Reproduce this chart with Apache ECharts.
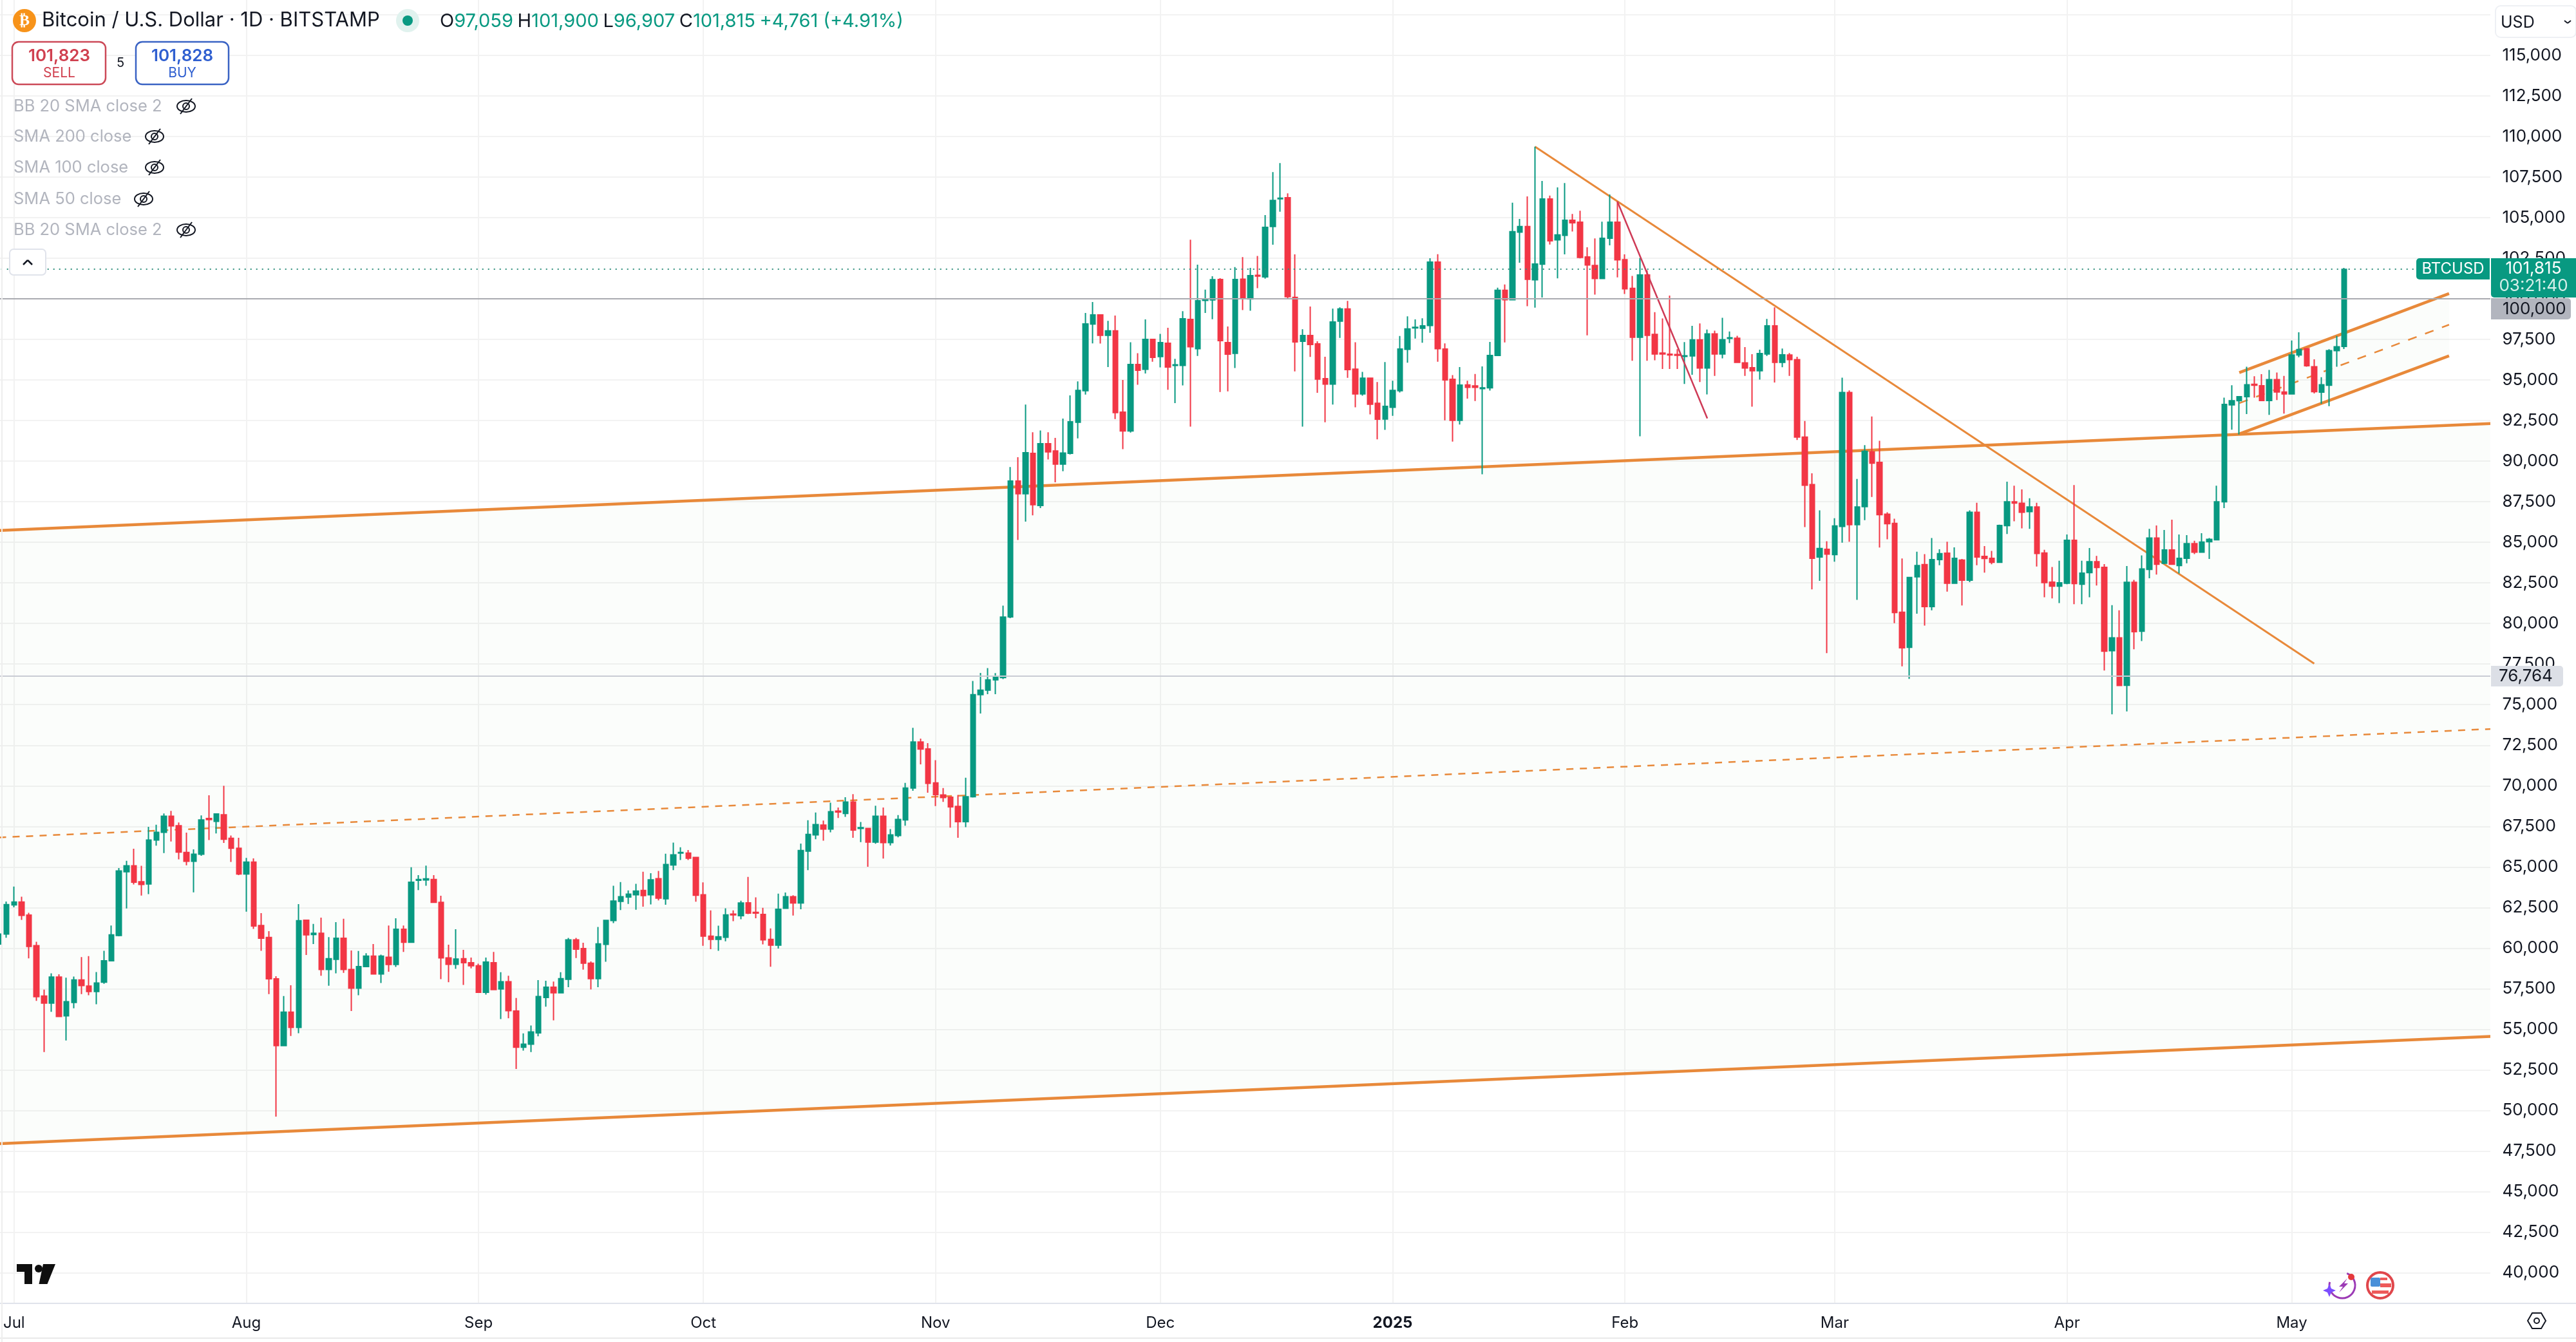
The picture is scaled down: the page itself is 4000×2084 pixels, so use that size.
<!DOCTYPE html>
<html>
<head>
<meta charset="utf-8">
<title>BTCUSD</title>
<script src="https://cdn.jsdelivr.net/npm/echarts@6/dist/echarts.min.js"></script>
<style>
  html, body { margin: 0; padding: 0; background: #fff; }
  #chart { width: 4000px; height: 2084px; }
</style>
</head>
<body>
<div id="chart"></div>
<script>
// daily candles, each row is open, close, low, high
const firstDay = "2024-06-29";
const dayCount = 334; // the empty days on the right are the chart's blank margin

const candlesJun = [
  [60250, 60870, 60150, 61000], [60870, 62680, 60640, 62870],
];
const candlesJul = [
  [62660, 62840, 62520, 63790], [62840, 62020, 61740, 63170], [62040, 60110, 59370, 62180], [60160, 57010, 56750, 60390],
  [57050, 56620, 53600, 57450], [56620, 58220, 56080, 58450], [58220, 55790, 55760, 58390], [55830, 56710, 54320, 58180],
  [56660, 58040, 56300, 58250], [58040, 57700, 57170, 59450], [57670, 57330, 57100, 59510], [57330, 57860, 56550, 58530],
  [57900, 59220, 57810, 59840], [59220, 60820, 59220, 61400], [60780, 64760, 60730, 64940], [64710, 65070, 62450, 65380],
  [65070, 64060, 63920, 66130], [64090, 63920, 63240, 65070], [63950, 66660, 63330, 67470], [66660, 67140, 66310, 67600],
  [67140, 68130, 65860, 68300], [68130, 67530, 66570, 68460], [67540, 65920, 65470, 67740], [65900, 65350, 65100, 67120],
  [65350, 65790, 63440, 66090], [65790, 67900, 65690, 68180], [67990, 67920, 66660, 69420], [67810, 68270, 67070, 68270],
  [68220, 66710, 66480, 70000], [66770, 66150, 65310, 66940], [66150, 64570, 64500, 66800],
];
const candlesAug = [
  [64570, 65300, 62250, 65560], [65300, 61370, 61190, 65530], [61400, 60610, 59840, 62160], [60660, 58110, 57170, 61050],
  [58110, 54000, 49630, 58270], [54000, 56060, 54000, 57050], [56060, 55120, 54590, 57720], [55120, 61690, 54760, 62710],
  [61720, 60820, 59580, 61720], [60840, 60920, 60250, 61490], [60920, 58690, 58300, 61880], [58690, 59350, 57690, 60680],
  [59310, 60610, 58450, 61600], [60610, 58690, 58480, 61810], [58690, 57540, 56130, 59860], [57540, 58870, 57100, 59830],
  [58870, 59510, 58840, 59690], [59510, 58410, 58410, 60250], [58410, 59510, 57860, 59600], [59440, 59000, 58550, 61400],
  [59000, 61170, 58850, 61840], [61170, 60360, 59770, 61400], [60360, 64060, 60360, 64980], [64180, 64230, 63580, 64500],
  [64200, 64270, 63840, 65080], [64230, 62820, 62820, 64500], [62820, 59400, 58090, 63230], [59400, 59010, 57900, 60220],
  [59010, 59330, 58730, 61170], [59350, 59100, 57740, 59900], [59100, 58920, 58760, 59420],
];
const candlesSep = [
  [58920, 57280, 57240, 59050], [57280, 59140, 57140, 59420], [59100, 57450, 57420, 59770], [57490, 57930, 55630, 58520],
  [57930, 56150, 55680, 58300], [56130, 53900, 52560, 56930], [53900, 54090, 53690, 54750], [54090, 54840, 53600, 55240],
  [54780, 57020, 54570, 58030], [56960, 57600, 56400, 57990], [57600, 57250, 55550, 57940], [57250, 58120, 57250, 58520],
  [58080, 60510, 57600, 60630], [60510, 59940, 59390, 60630], [59980, 59070, 58680, 60330], [59070, 58120, 57460, 59180],
  [58120, 60260, 57600, 61310], [60240, 61710, 59160, 61710], [61700, 62900, 61540, 63840], [62880, 63170, 62350, 64070],
  [63150, 63330, 62720, 63560], [63290, 63520, 62370, 63960], [63560, 63240, 62560, 64710], [63290, 64210, 62690, 64620],
  [64280, 63080, 62940, 64760], [63040, 65150, 62670, 65820], [65120, 65750, 64810, 66500], [65860, 65900, 65430, 66210],
  [65860, 65540, 65430, 66050], [65590, 63260, 62860, 65590],
];
const candlesOct = [
  [63290, 60740, 60150, 64050], [60740, 60540, 59940, 62330], [60540, 60700, 59840, 61390], [60670, 62050, 60420, 62460],
  [62100, 62050, 61660, 62330], [62000, 62780, 61780, 62920], [62790, 62160, 62100, 64390], [62210, 62160, 61840, 63130],
  [62080, 60510, 60240, 62490], [60540, 60190, 58860, 61220], [60190, 62400, 59980, 63360], [62460, 63170, 62460, 63430],
  [63170, 62780, 62010, 63260], [62780, 66020, 62400, 66440], [65980, 67010, 64810, 67880], [66980, 67610, 66710, 68360],
  [67580, 67330, 66620, 67860], [67330, 68410, 67140, 68960], [68450, 68390, 68020, 68660], [68300, 69000, 68090, 69300],
  [69000, 67280, 66800, 69490], [67370, 67420, 66530, 67770], [67370, 66530, 65010, 67380], [66530, 68130, 66430, 68770],
  [68130, 66500, 65520, 68660], [66500, 66980, 66320, 67330], [66940, 67930, 66830, 68200], [67900, 69860, 67540, 70180],
  [69860, 72700, 69690, 73570], [72700, 72260, 71320, 72910], [72270, 70150, 69580, 72630],
];
const candlesNov = [
  [70180, 69460, 68750, 71580], [69440, 69280, 69010, 69860], [69300, 68700, 67420, 69320], [68730, 67790, 66800, 69440],
  [67790, 69330, 67450, 70500], [69330, 75610, 69280, 76460], [75610, 75890, 74450, 76950], [75890, 76530, 75640, 77250],
  [76530, 76690, 75640, 76940], [76670, 80390, 76580, 81100], [80400, 88770, 80320, 89640], [88770, 87990, 85140, 90240],
  [87990, 90520, 86270, 93480], [90480, 87320, 86660, 91780], [87270, 91070, 87110, 91890], [91070, 90570, 90100, 91780],
  [90630, 89810, 88690, 91430], [89810, 90500, 89380, 92620], [90480, 92420, 90410, 94050], [92390, 94360, 91400, 94910],
  [94340, 98450, 94100, 99130], [98440, 99010, 97250, 99800], [99010, 97750, 97240, 99010], [97750, 98020, 95790, 98640],
  [98020, 92990, 92590, 98970], [93020, 91860, 90740, 95000], [91860, 95950, 91760, 97320], [95950, 95600, 94700, 96650],
  [95650, 97500, 95400, 98730], [97500, 96390, 96120, 97500],
];
const candlesDec = [
  [96440, 97300, 95770, 97840], [97260, 95790, 94400, 98210], [95890, 95930, 93570, 96300], [95890, 98770, 94660, 99230],
  [98730, 97040, 92120, 103640], [96920, 99880, 96480, 102100], [99900, 99950, 99130, 100560], [99930, 101180, 98740, 101390],
  [101190, 97420, 94260, 101270], [97300, 96590, 94300, 98290], [96640, 101190, 95730, 101950], [101210, 100030, 99300, 102570],
  [99990, 101430, 99260, 101900], [101450, 101400, 100650, 102640], [101350, 104400, 101240, 105150], [104450, 106060, 103330, 107800],
  [106160, 106200, 105360, 108360], [106220, 100130, 100030, 106490], [100090, 97340, 95530, 102730], [97380, 97740, 92120, 98120],
  [97740, 97180, 96420, 99520], [97220, 95050, 94210, 97380], [95080, 94740, 92390, 96430], [94740, 98570, 93480, 99390],
  [98620, 99370, 97590, 99470], [99370, 95630, 95130, 99870], [95660, 94140, 93310, 97320], [94140, 95110, 94030, 95500],
  [95110, 93500, 92880, 95110], [93560, 92580, 91340, 94870], [92590, 93370, 91930, 96100],
];
const candlesJan = [
  [93310, 94360, 92790, 94950], [94340, 96900, 94230, 97710], [96880, 98140, 96060, 98920], [98200, 98240, 97550, 98730],
  [98180, 98330, 97290, 98800], [98350, 102260, 97910, 102500], [102260, 96920, 96120, 102740], [96900, 95000, 92510, 97250],
  [95040, 92510, 91200, 95300], [92510, 94680, 92250, 95790], [94690, 94540, 93850, 94950], [94630, 94540, 93700, 95370],
  [94460, 94510, 89190, 95830], [94510, 96510, 94350, 97340], [96510, 100520, 96490, 100680], [100520, 99940, 97310, 100880],
  [99940, 104130, 99940, 105920], [104100, 104450, 102220, 104920], [104450, 101200, 99540, 106300], [101170, 102140, 99450, 109370],
  [102130, 106150, 100080, 107260], [106150, 103570, 103340, 106350], [103630, 103930, 101260, 106860], [103900, 104840, 102730, 107130],
  [104840, 104680, 104140, 105220], [104720, 102550, 102490, 105420], [102580, 102080, 97750, 103170], [102050, 101250, 100260, 103720],
  [101250, 103730, 101250, 104750], [103730, 104720, 103290, 106420], [104720, 102400, 101320, 106000],
];
const candlesFeb = [
  [102410, 100610, 100300, 102730], [100640, 97630, 96180, 101410], [97630, 101470, 91530, 102510], [101470, 97750, 96180, 101750],
  [97810, 96600, 96210, 99170], [96660, 96600, 95670, 98790], [96590, 96540, 95670, 100200], [96570, 96520, 95670, 96890],
  [96450, 96490, 94750, 97330], [96480, 97470, 95320, 98330], [97470, 95730, 94870, 98480], [95730, 97840, 94110, 98100],
  [97840, 96600, 95250, 98030], [96600, 97480, 96330, 98830], [97560, 97600, 97270, 97980], [97570, 96080, 96080, 97720],
  [96050, 95730, 95250, 97020], [95750, 95570, 93350, 96590], [95570, 96630, 95020, 96860], [96600, 98330, 96480, 98760],
  [98330, 96080, 94840, 99470], [96080, 96550, 95780, 96930], [96540, 96250, 95250, 96660], [96250, 91480, 91300, 96430],
  [91480, 88520, 85940, 92470], [88550, 84010, 82100, 89250], [84090, 84620, 82630, 86970], [84570, 84270, 78170, 85060],
];
const candlesMar = [
  [84240, 86010, 83810, 86480], [85980, 94230, 84980, 95140], [94230, 86090, 85030, 94360], [86090, 87180, 81460, 88900],
  [87200, 90610, 86360, 90980], [90570, 89870, 87790, 92750], [89920, 86700, 84680, 91250], [86730, 86150, 85180, 86850],
  [86170, 80670, 80020, 86450], [80690, 78500, 77360, 84000], [78530, 82830, 76590, 82870], [82870, 83570, 80600, 84420],
  [83630, 81040, 79870, 84270], [81040, 83930, 80810, 85260], [83930, 84300, 83590, 84570], [84330, 82480, 81960, 85030],
  [82480, 84010, 82450, 84690], [83900, 82660, 81110, 83970], [82660, 86850, 82550, 86970], [86850, 84090, 83590, 87430],
  [84130, 84000, 83130, 84770], [84010, 83770, 83650, 84470], [83770, 86040, 83770, 86090], [86030, 87490, 85510, 88730],
  [87490, 87410, 86290, 88490], [87400, 86850, 85860, 88260], [86890, 87180, 85830, 87710], [87180, 84310, 83510, 87430],
  [84340, 82520, 81610, 84540], [82550, 82300, 81540, 83480], [82300, 82510, 81260, 83860],
];
const candlesApr = [
  [82480, 85120, 82420, 85480], [85120, 82460, 81190, 88530], [82420, 83100, 81190, 83860], [83130, 83810, 81610, 84650],
  [83810, 83450, 82340, 84160], [83460, 78290, 77100, 83660], [78320, 79110, 74400, 81130], [79110, 76180, 76150, 80810],
  [76190, 82540, 74580, 83540], [82540, 79490, 78410, 82680], [79520, 83360, 78920, 84190], [83330, 85260, 82780, 85830],
  [85260, 83650, 83010, 86040], [83710, 84530, 83660, 85760], [84530, 83650, 83620, 86390], [83570, 84010, 83080, 85480],
  [84010, 84920, 83710, 85440], [84920, 84390, 84270, 85090], [84390, 85010, 84370, 85560], [85030, 85180, 83970, 85260],
  [85150, 87490, 85150, 88490], [87490, 93490, 87110, 93910], [93460, 93720, 91940, 94670], [93720, 93970, 91640, 94000],
  [93970, 94700, 92900, 95810], [94730, 94670, 93910, 95230], [94640, 93730, 93690, 95360], [93730, 95020, 92850, 95610],
  [95020, 94260, 93760, 95460], [94260, 94140, 92930, 95250],
];
const candlesMay = [
  [94140, 96540, 94130, 97430], [96540, 96870, 96400, 97940], [96920, 95870, 95810, 96920], [95810, 94280, 94170, 96270],
  [94250, 94700, 93530, 95170], [94670, 96800, 93380, 96890], [96800, 97040, 95810, 97710], [97059, 101815, 96907, 101900],
];

// tick labels
const monthNames = ["Jan", "Feb", "Mar", "Apr", "May", "Jun", "Jul", "Aug", "Sep", "Oct", "Nov", "Dec"];
const priceMin = 37500;
const priceMax = 120000;
const priceStep = 2500;
const firstPriceLabel = 40000;
const lastPriceLabel = 115000;

// drawn lines, each as [day, price] ends
const wideChannelTop = [["2024-06-29", 85730], ["2025-05-28", 92320]];
const wideChannelMiddle = [["2024-06-29", 66820], ["2025-05-28", 73510]];
const wideChannelBottom = [["2024-06-29", 47960], ["2025-05-28", 54570]];
const smallChannelTop = [["2025-04-24", 95450], ["2025-05-22", 100320]];
const smallChannelMiddle = [["2025-04-24", 93570], ["2025-05-22", 98400]];
const smallChannelBottom = [["2025-04-24", 91670], ["2025-05-22", 96480]];
const longTrendLine = [["2025-01-20", 109370], ["2025-05-04", 77530]];
const shortTrendLine = [["2025-01-31", 105990], ["2025-02-12", 92630]];

const lastPrice = 101815;
const roundLevel = 100000;
const lowLevel = 76764;

const UP = "#089981";
const DOWN = "#f23645";
const ORANGE = "#e8893a";
const INK = "#131722";
const GRID = "#f2f2f2";
const FONT = "Inter";

const candles = [].concat(candlesJun, candlesJul, candlesAug, candlesSep, candlesOct, candlesNov,
  candlesDec, candlesJan, candlesFeb, candlesMar, candlesApr, candlesMay);

const categories = [];
for (let i = 0; i < dayCount; i++) {
  const d = new Date(firstDay + "T00:00:00Z");
  d.setUTCDate(d.getUTCDate() + i);
  categories.push(d.toISOString().slice(0, 10));
}

const isMonthStart = (index, value) => value.slice(8) === "01";

function drawnLine(points, width, color, dash, z) {
  return {
    type: "line",
    data: points,
    symbol: "none",
    silent: true,
    animation: false,
    z: z,
    lineStyle: { width: width, color: color, type: dash || "solid" },
  };
}

function levelLine(value, width, color, dash) {
  return {
    type: "line",
    data: [],
    silent: true,
    animation: false,
    z: 1,
    markLine: {
      silent: true,
      animation: false,
      symbol: "none",
      label: { show: false },
      lineStyle: { width: width, color: color, type: dash, opacity: 1 },
      data: [{ yAxis: value }],
    },
  };
}

// light fill between the two outer lines of a channel
function channelFill(top, bottom) {
  return {
    type: "custom",
    silent: true,
    animation: false,
    clip: true,
    z: 1,
    data: [[0]],
    renderItem: function (params, api) {
      const at = (p) => api.coord([categories.indexOf(p[0]), p[1]]);
      return {
        type: "polygon",
        shape: { points: [at(top[0]), at(top[1]), at(bottom[1]), at(bottom[0])] },
        style: { fill: "rgba(76, 160, 90, 0.024)" },
      };
    },
  };
}

// header, order buttons and other chart furniture
function txt(x, y, text, font, fill, align) {
  return {
    type: "text", x: x, y: y, z: 110, silent: true,
    style: { text: text, font: font, fill: fill, textAlign: align || "left", textVerticalAlign: "middle" },
  };
}
function box(x, y, w, h, fill, stroke, r, lineWidth, z) {
  return {
    type: "rect", z: z || 100, silent: true,
    shape: { x: x, y: y, width: w, height: h, r: r || 0 },
    style: { fill: fill, stroke: stroke || null, lineWidth: lineWidth || 0 },
  };
}
function seg(x1, y1, x2, y2, stroke, lineWidth) {
  return {
    type: "line", z: 105, silent: true,
    shape: { x1: x1, y1: y1, x2: x2, y2: y2 },
    style: { stroke: stroke, lineWidth: lineWidth },
  };
}
function disc(cx, cy, r, fill, stroke, lineWidth) {
  return {
    type: "circle", z: 105, silent: true,
    shape: { cx: cx, cy: cy, r: r },
    style: { fill: fill, stroke: stroke || null, lineWidth: lineWidth || 0 },
  };
}
function poly(points, fill) {
  return { type: "polygon", z: 106, silent: true, shape: { points: points }, style: { fill: fill } };
}
function hiddenEye(x, y) {
  return [
    { type: "ellipse", z: 105, silent: true, shape: { cx: x, cy: y, rx: 14, ry: 9 }, style: { fill: null, stroke: INK, lineWidth: 2 } },
    disc(x, y, 5, null, INK, 2),
    seg(x + 9, y - 12, x - 9, y + 12, INK, 2),
  ];
}

const indicatorRows = [
  ["BB 20 SMA close 2", 165, 289],
  ["SMA 200 close", 212, 240],
  ["SMA 100 close", 260, 240],
  ["SMA 50 close", 309, 223],
  ["BB 20 SMA close 2", 357, 289],
];

const furniture = [
  // masks for the part of the plot behind the price and time scales
  box(3867, 0, 17, 2042, "#fff"),
  box(0, 2023, 4000, 19, "#fff"),
  box(0, 2023, 4000, 2, "#e0e3eb", null, 0, 0, 101),
  box(0, 2077, 4000, 2, "#e9e9e9", null, 0, 0, 101),
  box(2, 0, 2, 2084, "#eeeeee", null, 0, 0, 101),

  // symbol line
  disc(38, 32, 18, "#f7931a"),
  txt(38, 33, "₿", "bold 24px 'DejaVu Sans'", "#fff", "center"),
  txt(65, 32, "Bitcoin / U.S. Dollar · 1D · BITSTAMP", "31px " + FONT, INK),
  disc(633, 32, 18, "#e0f2ee"),
  disc(633, 32, 8, UP),
  {
    type: "text", x: 683, y: 33, z: 110, silent: true,
    style: {
      text: "{l|O}{v|97,059}  {l|H}{v|101,900}  {l|L}{v|96,907}  {l|C}{v|101,815}  {v|+4,761 (+4.91%)}",
      textVerticalAlign: "middle",
      rich: {
        l: { font: "29px " + FONT, fill: INK },
        v: { font: "29px " + FONT, fill: UP },
      },
    },
  },

  // sell and buy
  box(19, 65, 145, 66, "#fff", "#cc4a58", 10, 2.5),
  txt(92, 87, "101,823", "600 26px " + FONT, "#d0404f", "center"),
  txt(92, 114, "SELL", "21px " + FONT, "#d0404f", "center"),
  txt(187, 98, "5", "20px " + FONT, INK, "center"),
  box(211, 65, 144, 66, "#fff", "#3a63c4", 10, 2.5),
  txt(283, 87, "101,828", "600 26px " + FONT, "#2f5fd0", "center"),
  txt(283, 114, "BUY", "21px " + FONT, "#2f5fd0", "center"),

  // collapse button
  box(15, 387, 56, 40, "#fff", "#e0e3eb", 6, 2),
  seg(36, 411, 43, 404, INK, 2.5),
  seg(43, 404, 50, 411, INK, 2.5),

  // price scale
  box(3875, 9, 125, 49, "#fff", "#eef0f4", 8, 2),
  txt(3883, 35, "USD", "25px " + FONT, INK),
  seg(3982, 32, 3987, 36, INK, 2),
  seg(3987, 36, 3992, 32, INK, 2),
  box(3752, 401, 114, 33, UP, null, [5, 0, 0, 5]),
  txt(3809, 418, "BTCUSD", "24px " + FONT, "#fff", "center"),
  box(3868, 401, 132, 61, UP, null, [0, 0, 0, 5]),
  txt(3934, 417, "101,815", "26px " + FONT, "#fff", "center"),
  txt(3934, 444, "03:21:40", "26px " + FONT, "#d5efe9", "center"),
  box(3868, 463, 124, 33, "#b2b5be", null, [0, 5, 5, 0]),
  txt(3886, 480, "100,000", "26px " + FONT, INK),
  box(3868, 1034, 112, 32, "#dcdfe6", null, [0, 5, 5, 0]),
  txt(3880, 1050, "76,764", "26px " + FONT, INK),

  // corner logo
  poly([[26, 1963], [50, 1963], [50, 1994], [38, 1994], [38, 1975], [26, 1975]], "#0f0f0f"),
  disc(60, 1970, 6, "#0f0f0f"),
  poly([[67, 1963], [86, 1963], [73.5, 1994], [60.5, 1994]], "#0f0f0f"),

  // settings button
  {
    type: "polygon", z: 107, silent: true,
    shape: { points: [[3925, 2051], [3932, 2039], [3946, 2039], [3953, 2051], [3946, 2063], [3932, 2063]] },
    style: { fill: null, stroke: INK, lineWidth: 2 },
  },
  disc(3939, 2051, 4, null, INK, 2),

  // news and flag badges
  { type: "arc", z: 105, silent: true, shape: { cx: 3637, cy: 1996, r: 20, startAngle: -1.2, endAngle: 3.4 }, style: { fill: null, stroke: "#9c3ab5", lineWidth: 3 } },
  poly([[3645, 1985], [3632, 1998], [3638, 1998], [3632, 2007], [3646, 1993], [3640, 1993]], "#9c3ab5"),
  poly([[3617, 1994], [3620, 2001], [3627, 2004], [3620, 2007], [3617, 2014], [3614, 2007], [3607, 2004], [3614, 2001]], "#7c4dff"),
  disc(3651, 1983, 5, "#e5383b"),
  disc(3696, 1996, 20, "#fff", "#e0474c", 4),
  box(3681, 1984, 15, 14, "#4a90d9", null, 2, 0, 106),
  box(3696, 1984, 11, 4, "#ee5a5a", null, 0, 0, 106),
  box(3696, 1993, 17, 6, "#ee5a5a", null, 0, 0, 106),
  box(3683, 2004, 26, 5, "#ee5a5a", null, 0, 0, 106),
];

indicatorRows.forEach(function (row) {
  furniture.push(txt(21, row[1], row[0], "25.5px " + FONT, "#b2b5be"));
  furniture.push.apply(furniture, hiddenEye(row[2], row[1]));
});

const option = {
  animation: false,
  backgroundColor: "#fff",
  grid: { left: -7.3, top: -40.3, width: 3885.8, height: 2080, outerBoundsMode: "none" },
  xAxis: {
    type: "category",
    data: categories,
    boundaryGap: true,
    axisLine: { show: false },
    axisTick: { show: false },
    axisLabel: {
      interval: isMonthStart,
      margin: 3,
      hideOverlap: false,
      color: INK,
      fontFamily: FONT,
      fontSize: 24,
      formatter: function (value) {
        const month = Number(value.slice(5, 7));
        return month === 1 ? "{year|" + value.slice(0, 4) + "}" : monthNames[month - 1];
      },
      rich: { year: { fontFamily: FONT, fontSize: 24, fontWeight: 700, color: INK } },
    },
    splitLine: {
      show: true,
      interval: isMonthStart,
      alignWithLabel: true,
      lineStyle: { color: GRID, width: 2 },
    },
  },
  yAxis: {
    type: "value",
    position: "right",
    min: priceMin,
    max: priceMax,
    interval: priceStep,
    scale: true,
    axisLine: { show: false },
    axisTick: { show: false },
    axisLabel: {
      margin: 7,
      color: INK,
      fontFamily: FONT,
      fontSize: 26,
      formatter: function (value) {
        if (value < firstPriceLabel || value > lastPriceLabel) return "";
        return value.toLocaleString("en-US");
      },
    },
    splitLine: { show: true, lineStyle: { color: GRID, width: 2 } },
  },
  graphic: { elements: furniture },
  series: [
    channelFill(wideChannelTop, wideChannelBottom),
    channelFill(smallChannelTop, smallChannelBottom),
    levelLine(lastPrice, 2, "#2f8f7d", [2, 7]),
    levelLine(roundLevel, 2, "#a9abb0", "solid"),
    levelLine(lowLevel, 2, "#c9ccd4", "solid"),
    drawnLine(wideChannelTop, 4.5, ORANGE, null, 2),
    drawnLine(wideChannelMiddle, 2.5, ORANGE, [11, 10], 2),
    drawnLine(wideChannelBottom, 4.5, ORANGE, null, 2),
    drawnLine(smallChannelTop, 4.5, ORANGE, null, 2),
    drawnLine(smallChannelMiddle, 2.5, ORANGE, [14, 14], 2),
    drawnLine(smallChannelBottom, 4.5, ORANGE, null, 2),
    drawnLine(longTrendLine, 3, ORANGE, null, 2),
    {
      type: "candlestick",
      data: candles,
      barWidth: 8,
      z: 3,
      silent: true,
      animation: false,
      itemStyle: { color: UP, color0: DOWN, borderColor: UP, borderColor0: DOWN, borderWidth: 2 },
    },
    drawnLine(shortTrendLine, 2.5, "#cf3a56", null, 4),
  ],
};

const chart = echarts.init(document.getElementById("chart"));
chart.setOption(option);
</script>
</body>
</html>
